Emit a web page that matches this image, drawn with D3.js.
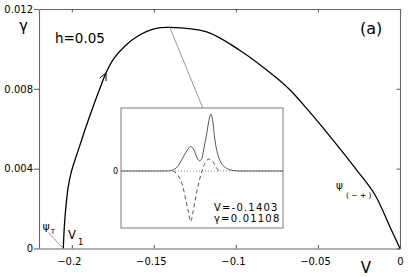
<!DOCTYPE html>
<html>
<head>
<meta charset="utf-8">
<script src="https://cdnjs.cloudflare.com/ajax/libs/d3/7.8.5/d3.min.js"></script>
<style>
body { margin: 0; background: #fff; }
text { font-family: "DejaVu Sans", sans-serif; fill: #000; }
</style>
</head>
<body>
<script>
// main branch gamma(V), h = 0.05
var V = [-0.2052, -0.2045, -0.2035, -0.2023, -0.2005, -0.1981, -0.1950, -0.1914, -0.1871, -0.1828, -0.1792, -0.1743, -0.1676, -0.1597, -0.1493,
         -0.1403, -0.1178, -0.0975, -0.0774, -0.0670, -0.0569, -0.0469, -0.0264, -0.0152, -0.0061, 0];
var gam = [0, 0.00118, 0.00218, 0.00303, 0.00378, 0.00443, 0.00519, 0.00609, 0.00709, 0.00804, 0.00879, 0.00952, 0.01015, 0.01065, 0.01102,
           0.01108, 0.01085, 0.00992, 0.00869, 0.00794, 0.00702, 0.00604, 0.00393, 0.00268, 0.00108, 0];
var xTicks = [-0.2, -0.15, -0.1, -0.05, 0];
var yTicks = [0, 0.004, 0.008, 0.012];
var peakV = -0.1403, peakG = 0.01108;
var arrowIdx = 10;

// inset profiles (arbitrary units)
var inX   = [-1, -0.45, -0.38, -0.30, -0.23, -0.18, -0.14, -0.10, -0.06, -0.03, 0.00, 0.02, 0.06, 0.09, 0.11, 0.13, 0.16, 0.22, 0.30, 0.38, 0.47, 1];
var inPsi = [0, 0, 0.01, 0.08, 0.25, 0.37, 0.43, 0.37, 0.23, 0.18, 0.22, 0.37, 0.67, 0.92, 1.0, 0.9, 0.54, 0.19, 0.05, 0.01, 0, 0];
var inXd  = [-0.36, -0.30, -0.235, -0.20, -0.167, -0.14, -0.111, -0.074, -0.037, 0, 0.037, 0.09, 0.136, 0.181, 0.21];
var inPhi = [0, -0.07, -0.28, -0.51, -0.72, -0.89, -0.72, -0.44, -0.19, 0, 0.14, 0.21, 0.16, 0.05, 0];

var width = 415, height = 277;
var svg = d3.select("body").append("svg")
    .attr("width", width)
    .attr("height", height);

var x = d3.scaleLinear().domain([-0.22, 0]).range([39, 400]);
var y = d3.scaleLinear().domain([0, 0.012]).range([248.5, 9]);

var fmt = function(d){ return d === 0 ? "0" : d3.format("")(d); };

// frame + ticks
var gx = svg.append("g").attr("transform", "translate(0," + y(0) + ")")
    .call(d3.axisBottom(x).tickValues(xTicks).tickSizeInner(-3.5).tickSizeOuter(0).tickPadding(9).tickFormat(fmt));
gx.selectAll("text").attr("dx", function(d){ return d < 0 ? -3 : 0; });
svg.append("g").attr("transform", "translate(0," + y(0.012) + ")")
    .call(d3.axisTop(x).tickValues(xTicks).tickSizeInner(-3.5).tickSizeOuter(0).tickFormat(""));
svg.append("g").attr("transform", "translate(" + x(-0.22) + ",0)")
    .call(d3.axisLeft(y).tickValues(yTicks).tickSizeInner(5).tickSizeOuter(0).tickPadding(1).tickFormat(fmt));
svg.append("g").attr("transform", "translate(" + x(0) + ",0)")
    .call(d3.axisRight(y).tickValues(yTicks).tickSizeInner(-3.5).tickSizeOuter(0).tickFormat(""));

svg.selectAll(".domain, .tick line").attr("stroke", "#666").attr("stroke-width", 1.1);
svg.selectAll(".tick text").attr("font-size", 10).attr("font-family", "DejaVu Sans").attr("fill", "#000");

// main curve
var pts = V.map(function(v, i){ return [v, gam[i]]; });
var line = d3.line()
    .x(function(d){ return x(d[0]); })
    .y(function(d){ return y(d[1]); })
    .curve(d3.curveCatmullRom.alpha(0.5));
svg.append("path").datum(pts)
    .attr("fill", "none").attr("stroke", "#000").attr("stroke-width", 1.3)
    .attr("d", line);

// direction arrow
var a0 = pts[arrowIdx - 1], a1 = pts[arrowIdx + 1], tip = pts[arrowIdx];
var dx = x(a1[0]) - x(a0[0]), dy = y(a1[1]) - y(a0[1]);
var ang = Math.atan2(dy, dx), L = 8, spread = 0.45;
var tx = x(tip[0]), ty = y(tip[1]);
svg.append("path")
    .attr("fill", "none").attr("stroke", "#000").attr("stroke-width", 1)
    .attr("d", "M" + (tx - L * Math.cos(ang - spread)) + "," + (ty - L * Math.sin(ang - spread)) +
               "L" + tx + "," + ty +
               "L" + (tx - L * Math.cos(ang + spread)) + "," + (ty - L * Math.sin(ang + spread)));

// inset
var ix = d3.scaleLinear().domain([-1, 1]).range([121, 283]);
var iy = d3.scaleLinear().domain([-1.0, 1.105]).range([228, 108]);

// leader from the peak to the inset
svg.append("line")
    .attr("x1", x(peakV)).attr("y1", y(peakG))
    .attr("x2", ix(0.01)).attr("y2", iy(1.105))
    .attr("stroke", "#999").attr("stroke-width", 1);

svg.append("rect")
    .attr("x", ix(-1)).attr("y", iy(1.105))
    .attr("width", ix(1) - ix(-1)).attr("height", iy(-1) - iy(1.105))
    .attr("fill", "#fff").attr("stroke", "#888").attr("stroke-width", 1.1);

svg.append("line")
    .attr("x1", ix(-1)).attr("x2", ix(1)).attr("y1", iy(0)).attr("y2", iy(0))
    .attr("stroke", "#777").attr("stroke-width", 0.9).attr("stroke-dasharray", "1,2");

var iline = d3.line()
    .x(function(d){ return ix(d[0]); })
    .y(function(d){ return iy(d[1]); })
    .curve(d3.curveMonotoneX);
svg.append("path").datum(inX.map(function(v, i){ return [v, inPsi[i]]; }))
    .attr("fill", "none").attr("stroke", "#555").attr("stroke-width", 1)
    .attr("d", iline);
svg.append("path").datum(inXd.map(function(v, i){ return [v, inPhi[i]]; }))
    .attr("fill", "none").attr("stroke", "#555").attr("stroke-width", 1)
    .attr("stroke-dasharray", "4,3")
    .attr("d", iline);

svg.append("text").attr("x", ix(-1) - 3).attr("y", iy(0) + 3)
    .attr("text-anchor", "end").attr("font-size", 8).text("0");
svg.append("text").attr("x", 214).attr("y", 210.5)
    .attr("font-family", "Liberation Mono").attr("font-size", 10).attr("letter-spacing", 1.2)
    .attr("fill", "#444").text("V=-0.1403");
svg.append("text").attr("x", 214).attr("y", 221.5)
    .attr("font-family", "Liberation Mono").attr("font-size", 10).attr("letter-spacing", 1.2)
    .attr("fill", "#444").text("\u03b3=0.01108");

// psi_T leader at V1
svg.append("line")
    .attr("x1", x(V[0]) - 15).attr("y1", y(0) - 16)
    .attr("x2", x(V[0])).attr("y2", y(0))
    .attr("stroke", "#999").attr("stroke-width", 1);

// labels
svg.append("text").attr("x", 19).attr("y", 31).attr("font-size", 15).text("\u03b3");
svg.append("text").attr("x", 55).attr("y", 43).attr("font-size", 13.5).text("h=0.05");
svg.append("text").attr("x", 360).attr("y", 34).attr("font-size", 16).text("(a)");
svg.append("text").attr("x", 366).attr("y", 273).attr("text-anchor", "middle").attr("font-size", 15).text("V");

var t1 = svg.append("text").attr("x", 68).attr("y", 238.5).attr("font-size", 11.5);
t1.append("tspan").text("V");
t1.append("tspan").attr("font-size", 8.5).attr("dx", 2).attr("dy", 6.5).text("1");

var t2 = svg.append("text").attr("x", 42.5).attr("y", 230).attr("font-size", 11);
t2.append("tspan").text("\u03c8");
t2.append("tspan").attr("font-size", 7).attr("dx", 1).attr("dy", 4).text("T");

var t3 = svg.append("text").attr("x", 336).attr("y", 189).attr("font-size", 10.5);
t3.append("tspan").text("\u03c8");
t3.append("tspan").attr("font-size", 7.5).attr("dx", 3).attr("dy", 9).text("( \u2212 + )");
</script>
</body>
</html>
